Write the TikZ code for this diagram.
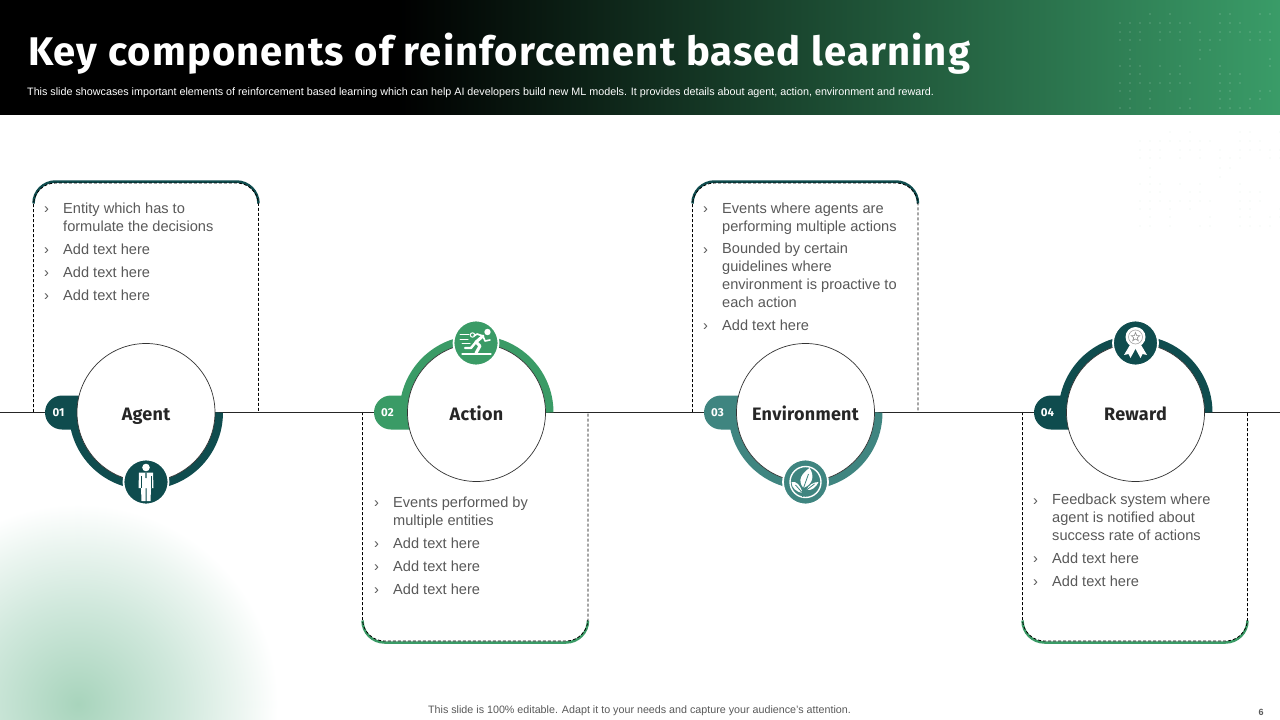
\documentclass[tikz,border=0pt]{standalone}
\usepackage{fontspec}
\setmainfont{Liberation Sans}
\newfontfamily\din{Fira Sans}
\usetikzlibrary{calc}
\definecolor{teal1}{HTML}{0F4C4E}
\definecolor{green1}{HTML}{3A9B66}
\definecolor{env1}{HTML}{3F8580}
\definecolor{hdrgreen}{HTML}{3A9C68}
\definecolor{glow0}{HTML}{A8D4BC}
\definecolor{glow1}{HTML}{B8DCC9}
\definecolor{glow2}{HTML}{D0E8DC}
\definecolor{glow3}{HTML}{EBF5F0}
\definecolor{bodytxt}{HTML}{595959}
\pgfdeclarehorizontalshading{hdrshade}{100bp}{color(0bp)=(black); color(40.5bp)=(black); color(75bp)=(hdrgreen); color(100bp)=(hdrgreen)}
\pgfdeclareradialshading{glowshade}{\pgfpoint{0bp}{0bp}}{color(0bp)=(glow0); color(5bp)=(glow1); color(12.5bp)=(glow2); color(20bp)=(glow3); color(25bp)=(white); color(50bp)=(white)}
\newcounter{bl}
\newcommand{\bul}[4]{\stepcounter{bl}%
  \node[chevtxt] (c\thebl) at (#1-19,#2) {›};
  \node[bodyline] (b\thebl) at (#1,#3) {#4};}
\newcommand{\unitstep}[7]{% name, cx, colour, number, label, end angle, pill left
  \fill[#3,rounded corners=17] (#7,395.5) rectangle (#2-40,429.5);
  \draw[#3,line width=8] (#2+73,412.5) arc[start angle=0,end angle=#6,radius=73];
  \node[maincircle] (#1) at (#2,412.5) {#5};
  \node[numlabel] (#1num) at (#7+13.5,412.5) {#4};
}
\newcommand{\dotfield}[1]{%
  \foreach \ry/\cols in {14/{750,810,960,990,1080,1110},23/{660,690,720,750,780,810,840,870,960,990,1020},32/{660,690,720,780,810,840,900,960,990,1020,1050,1080,1110},40/{660,690,720,780,840,900,930,960,1050,1080,1110},50/{690,900,930},59/{690,900,1110},66/{660,690,720,780,840,960,1110},74/{690,720,810,840,960,990,1020},83/{660,690,720,750,780,810,840,870,960,990,1020},91/{660,690,750,810,960,990,1080,1110},99/{690,750,870,960,990,1050,1080},108/{660,690,750,840,870,960,990,1020,1050}}{
    \foreach \cx in \cols { \fill[#1] ({900+\cx/3},\ry) circle (1.1); }
  }%
}
\tikzset{
  maincircle/.style={circle,draw=black!80,line width=0.7pt,fill=white,minimum size=138pt,inner sep=0pt,text height=17pt,text depth=2pt,font=\din\bfseries\fontsize{18}{20}\selectfont\addfontfeature{LetterSpace=1.5},text=black!85},
  numlabel/.style={text=white,font=\din\bfseries\fontsize{11.5}{12}\selectfont,inner sep=0pt},
  bodyline/.style={anchor=base west,inner sep=0pt,align=left,text=bodytxt,font=\fontsize{14.6}{17.7}\selectfont},
  chevtxt/.style={anchor=base west,inner sep=0pt,text=bodytxt,font=\fontsize{14.6}{17.7}\selectfont},
  dashbox/.style={draw=black,line width=0.8pt,dash pattern=on 3pt off 2pt,rounded corners=22pt},
  edgeline/.style={line width=2.5pt,rounded corners=22pt},
  iconback/.style={circle,draw=white,line width=1.8pt,minimum size=45pt,inner sep=0pt},
  iconstroke/.style={draw=white,line width=1.8pt,line cap=round,line join=round},
}
\begin{document}
\begin{tikzpicture}[x=1pt,y=-1pt]
\useasboundingbox (0,0) rectangle (1280,720);
\fill[white] (0,0) rectangle (1280,720);
% bottom-left glow
\begin{scope}
  \clip (0,0) rectangle (1280,720);
  \shade[shading=glowshade] (78,704) circle (200);
\end{scope}
% header
\shade[shading=hdrshade] (0,0) rectangle (1280,114.6);
\dotfield{white,opacity=0.14}
\begin{scope}[shift={(20,118)}]
  \dotfield{green1,opacity=0.035}
\end{scope}
\node[anchor=base west,inner sep=0pt,text=white,font=\din\bfseries\fontsize{40}{44}\selectfont\addfontfeature{LetterSpace=2.8}] (title) at (28,65) {Key components of reinforcement based learning};
\node[anchor=base west,inner sep=0pt,text=white,font=\fontsize{10.75}{12}\selectfont] (subtitle) at (27,95) {This slide showcases important elements of reinforcement based learning which can help AI developers build new ML models. It provides details about agent, action, environment and reward.};
% dashed cards: coloured edge first
\draw[teal1,edgeline] (33.5,203.5)--(33.5,181.5)--(258.5,181.5)--(258.5,203.5);
\draw[teal1,edgeline] (692.5,203.5)--(692.5,181.5)--(918,181.5)--(918,203.5);
\draw[green1,edgeline] (362.5,620.5)--(362.5,642.5)--(588,642.5)--(588,620.5);
\draw[green1,edgeline] (1022.5,620.5)--(1022.5,642.5)--(1247.5,642.5)--(1247.5,620.5);
\draw[dashbox] (33.5,412)--(33.5,183)--(258.5,183)--(258.5,412);
\draw[dashbox] (692.5,412)--(692.5,183)--(918,183)--(918,412);
\draw[dashbox] (362.5,412)--(362.5,641)--(588,641)--(588,412);
\draw[dashbox] (1022.5,412)--(1022.5,641)--(1247.5,641)--(1247.5,412);
% timeline
\coordinate (tlL) at (0,412.5);
\coordinate (tlR) at (1280,412.5);
\draw[black!85,line width=0.9pt] (tlL)--(tlR);
% units
\unitstep{agent}{146}{teal1}{01}{Agent}{180}{45}
\unitstep{action}{476.5}{green1}{02}{Action}{-180}{374}
\unitstep{environment}{805.5}{env1}{03}{Environment}{180}{704}
\unitstep{reward}{1135.5}{teal1}{04}{Reward}{-180}{1034}
% icons
\node[iconback,fill=teal1] (iconA) at (146,482) {};
\begin{scope}[shift={(146,482)}]
  \fill[white] (0,-14.5) circle (3.8);
  \fill[white] (-7,-9.5) -- (7,-9.5) -- (7.5,6) -- (5,6) -- (4.5,19) -- (0.5,19) -- (0.5,6) -- (-0.5,6) -- (-0.5,19) -- (-4.5,19) -- (-5,6) -- (-7.5,6) -- cycle;
  \draw[teal1,line width=0.5pt] (-5,-6)--(-5,5.5) (5,-6)--(5,5.5);
  \fill[teal1] (-0.7,-9.5)--(0.7,-9.5)--(0.5,-4)--(-0.5,-4)--cycle;
\end{scope}
\node[iconback,fill=green1] (iconB) at (476,343) {};
\begin{scope}[shift={(476,343)}]
  \fill[white] (11.5,-11) circle (3.2);
  \draw[iconstroke,line width=3pt] (7,-7)--(0,-1)--(4,3)--(0,10);
  \draw[iconstroke,line width=2.4pt] (0,-1)--(-5,5)--(-11,5);
  \draw[iconstroke,line width=1.6pt] (7,-7)--(1,-9)--(-2,-7);
  \draw[iconstroke,line width=1.6pt] (7,-7)--(9,-2)--(14,-3);
  \draw[iconstroke,line width=1pt] (-3.5,-8) circle (2.2);
  \draw[iconstroke,line width=1pt] (-16,-9)--(-7,-9) (-16,-4)--(-8,-4) (-14,0)--(-6,0);
  \draw[iconstroke,line width=1.3pt] (-14,11)--(15,11);
\end{scope}
\node[iconback,fill=env1] (iconC) at (805.5,482) {};
\begin{scope}[shift={(805.5,482)}]
  \draw[white,line width=1.4pt] (0,0) circle (15.5);
  \fill[white] (-2,6) .. controls (-9,-2) and (-3,-9) .. (4,-14) .. controls (9,-7) and (8,2) .. (-2,6) -- cycle;
  \fill[white] (-3,11) .. controls (-9,10) and (-14,6) .. (-14,0) .. controls (-9,-1) and (-5,3) .. (-3,11) -- cycle;
  \fill[white] (1,8) .. controls (6,9) and (11,5) .. (13,0) .. controls (8,0) and (3,3) .. (1,8) -- cycle;
  \draw[env1,line width=0.8pt] (-3,15)--(-3,9) (-2,6)--(3,-8) (-3,11)--(-10,3) (1,8)--(9,2);
\end{scope}
\node[iconback,fill=teal1] (iconD) at (1135.5,343) {};
\begin{scope}[shift={(1135.5,343)}]
  \fill[white] (-5,1)--(-11.5,12)--(-7,11)--(-5,15)--(1,4)--cycle;
  \fill[white] (5,1)--(11.5,12)--(7,11)--(5,15)--(-1,4)--cycle;
  \fill[white] (0,-6) circle (10);
  \draw[black!35,line width=0.6pt] (0,-6) circle (7);
  \draw[black!45,line width=0.6pt] (0,-10.5)--(1.2,-7.4)--(4.3,-7.4)--(1.8,-5.3)--(2.8,-2.3)--(0,-4)--(-2.8,-2.3)--(-1.8,-5.3)--(-4.3,-7.4)--(-1.2,-7.4)--cycle;
\end{scope}
% bullets
\bul{63}{213}{231}{Entity which has to\\formulate the decisions}
\bul{63}{254}{254}{Add text here}
\bul{63}{277}{277}{Add text here}
\bul{63}{300}{300}{Add text here}
\bul{393}{507}{525}{Events performed by\\multiple entities}
\bul{393}{548}{548}{Add text here}
\bul{393}{571}{571}{Add text here}
\bul{393}{594}{594}{Add text here}
\bul{722}{213}{231}{Events where agents are\\performing multiple actions}
\bul{722}{254}{307}{Bounded by certain\\guidelines where\\environment is proactive to\\each action}
\bul{722}{330}{330}{Add text here}
\bul{1052}{505}{540}{Feedback system where\\agent is notified about\\success rate of actions}
\bul{1052}{563}{563}{Add text here}
\bul{1052}{586}{586}{Add text here}
% footer
\node[anchor=base,inner sep=0pt,text=black!65,font=\fontsize{10.72}{12}\selectfont] (footer) at (639.5,713) {This slide is 100\% editable. Adapt it to your needs and capture your audience's attention.};
\node[anchor=base,inner sep=0pt,text=black!65,font=\bfseries\fontsize{9}{10}\selectfont] (pagenum) at (1261,715) {6};
\end{tikzpicture}
\end{document}
